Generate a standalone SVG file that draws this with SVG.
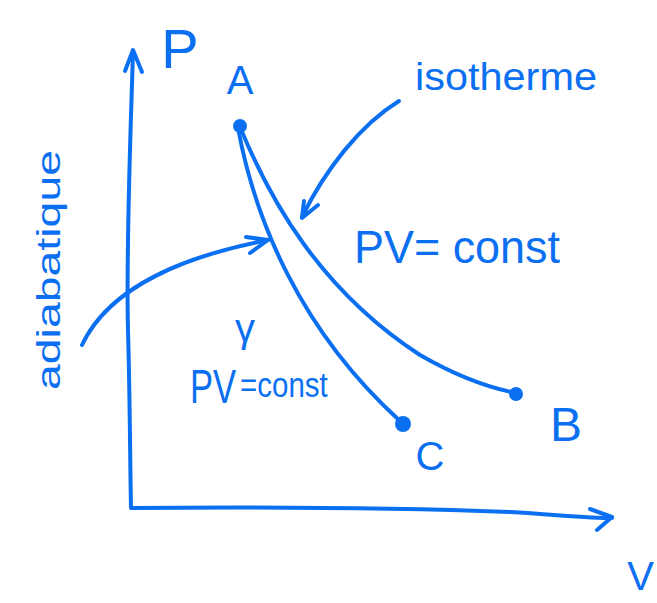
<svg xmlns="http://www.w3.org/2000/svg" width="657" height="603" viewBox="0 0 657 603">
<style>
.s{fill:none;stroke:#0b6ff2;stroke-width:4;stroke-linecap:round;stroke-linejoin:round}
.t{fill:#0b6ff2;font-family:"Liberation Sans",sans-serif}
.d{fill:#0b6ff2}
</style>
<rect width="657" height="603" fill="#fff"/>
<g id="connectors">
<path class="s" d="M133,52 C130,150 126,250 128,330 C130,400 130,460 131,508 C250,507 400,508 510,512 C560,515 590,518 612,518"/>
<path class="s" d="M125,71 L133,50 L142,72"/>
<path class="s" d="M590,509 L612,517 L597,530"/>
<path class="s" d="M240,127 C270,200 320,290 420,355 C460,378 490,388 516,393"/>
<path class="s" d="M238,128 C255,220 300,330 400,421"/>
<path class="s" d="M399,101 C360,125 325,170 302,217"/>
<path class="s" d="M304,201 L302,218 L318,205"/>
<path class="s" d="M82,345 C110,285 190,255 268,240"/>
<path class="s" d="M246,237 L268,240 L250,253"/>
</g>
<g id="A"><circle class="d" cx="240" cy="126" r="7"/><text class="t" x="240" y="94" font-size="40" text-anchor="middle">A</text></g>
<g id="B"><circle class="d" cx="516" cy="394" r="7"/><text class="t" x="566" y="441" font-size="48" text-anchor="middle">B</text></g>
<g id="C"><circle class="d" cx="403" cy="424" r="8"/><text class="t" x="430" y="470" font-size="40" text-anchor="middle">C</text></g>
<g id="axes-labels">
<text class="t" x="180" y="68" font-size="56" text-anchor="middle">P</text>
<text class="t" x="654" y="590" font-size="40" text-anchor="end">V</text>
</g>
<g id="isotherme"><text class="t" x="415" y="90" font-size="38" textLength="182" lengthAdjust="spacingAndGlyphs">isotherme</text></g>
<g id="pv-const"><text class="t" x="354" y="263" font-size="46" textLength="206" lengthAdjust="spacingAndGlyphs">PV= const</text></g>
<g id="adiabatique"><text class="t" transform="translate(60,390) rotate(-90)" font-size="34" textLength="240" lengthAdjust="spacingAndGlyphs">adiabatique</text></g>
<g id="pv-gamma">
<text class="t" transform="translate(190,403) scale(0.72,1)" font-size="48">PV</text>
<text class="t" x="235" y="342" font-size="40">γ</text>
<text class="t" transform="translate(240,397) scale(0.82,1)" font-size="36">=const</text>
</g>
</svg>
